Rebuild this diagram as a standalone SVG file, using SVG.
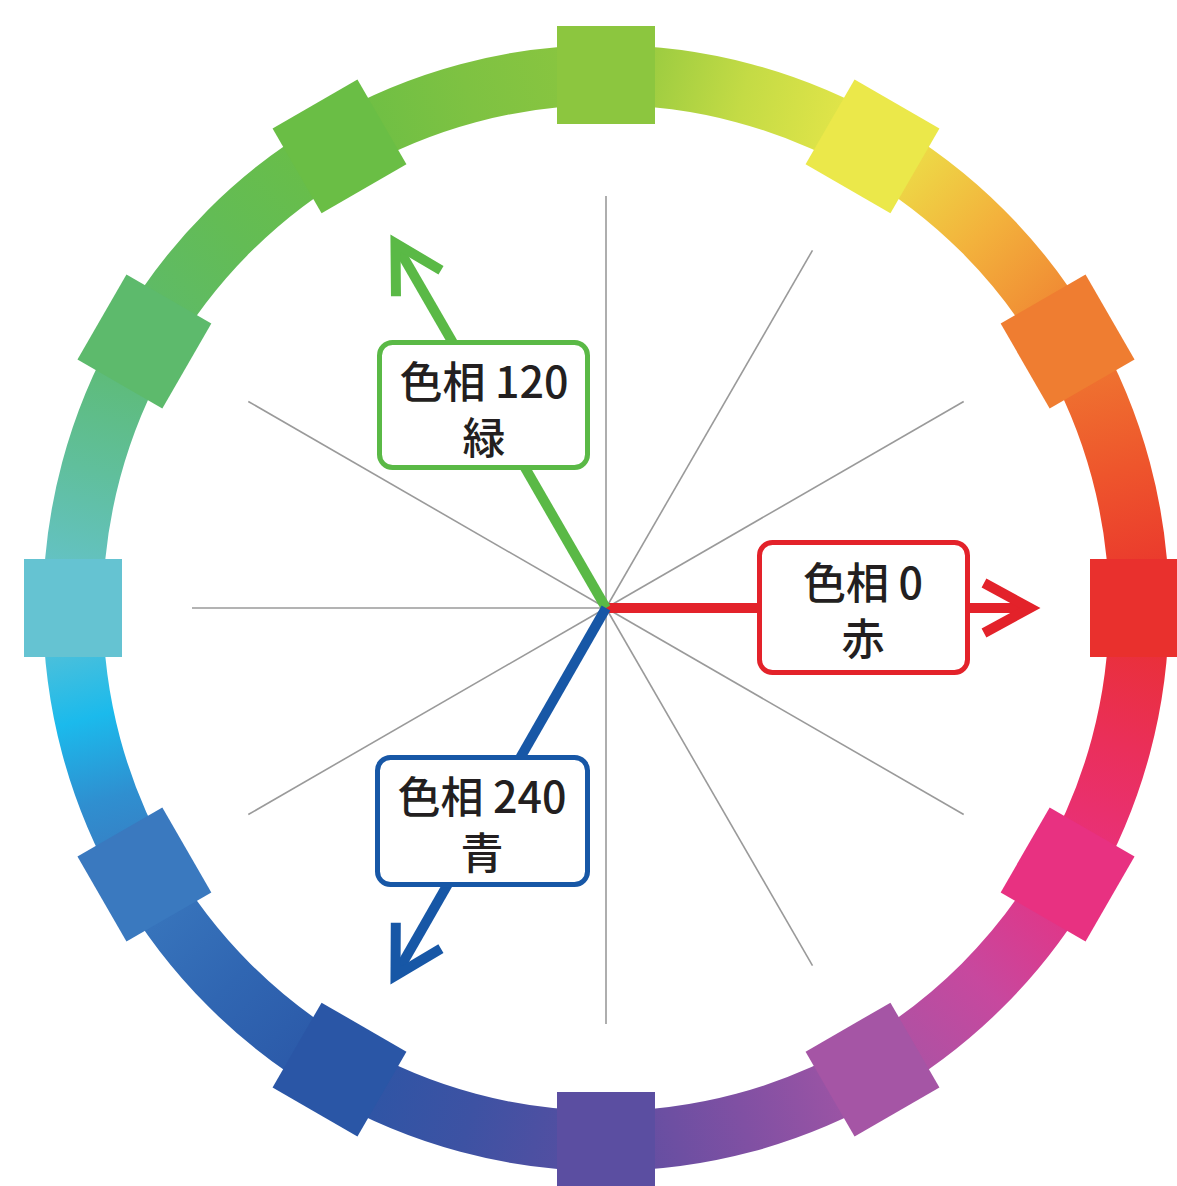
<svg xmlns="http://www.w3.org/2000/svg" width="1177" height="1186" viewBox="0 0 1177 1186">
<style>
.band{fill:none;stroke-width:60;stroke-linecap:butt}
.spoke{stroke:#9a9a9a;stroke-width:1.6}
.shaft{fill:none;stroke-width:10}
.box{fill:#fff;stroke-width:5}
.lbl{font-family:"Noto Sans CJK JP","Noto Sans",sans-serif;font-size:43px;font-weight:500;fill:#231f20;text-anchor:middle}
</style>
<defs>
<linearGradient id="g0" gradientUnits="userSpaceOnUse" x1="1139" y1="608" x2="1067.6" y2="341.5"><stop offset="0" stop-color="#e9302d"/><stop offset="0.5" stop-color="#ee552c"/><stop offset="1" stop-color="#ef7d31"/></linearGradient>
<linearGradient id="g1" gradientUnits="userSpaceOnUse" x1="1067.6" y1="341.5" x2="872.5" y2="146.4"><stop offset="0" stop-color="#ef7d31"/><stop offset="0.5" stop-color="#f3b23c"/><stop offset="1" stop-color="#ebe84a"/></linearGradient>
<linearGradient id="g2" gradientUnits="userSpaceOnUse" x1="872.5" y1="146.4" x2="606" y2="75"><stop offset="0" stop-color="#ebe84a"/><stop offset="0.5" stop-color="#c4db45"/><stop offset="1" stop-color="#8cc63f"/></linearGradient>
<linearGradient id="g3" gradientUnits="userSpaceOnUse" x1="606" y1="75" x2="339.5" y2="146.4"><stop offset="0" stop-color="#8cc63f"/><stop offset="0.5" stop-color="#7ec242"/><stop offset="1" stop-color="#6abe45"/></linearGradient>
<linearGradient id="g4" gradientUnits="userSpaceOnUse" x1="339.5" y1="146.4" x2="144.4" y2="341.5"><stop offset="0" stop-color="#6abe45"/><stop offset="0.5" stop-color="#63bc55"/><stop offset="1" stop-color="#5dba6c"/></linearGradient>
<linearGradient id="g5" gradientUnits="userSpaceOnUse" x1="144.4" y1="341.5" x2="73" y2="608"><stop offset="0" stop-color="#5dba6c"/><stop offset="0.5" stop-color="#60bf9c"/><stop offset="1" stop-color="#65c3d2"/></linearGradient>
<linearGradient id="g6" gradientUnits="userSpaceOnUse" x1="73" y1="608" x2="144.4" y2="874.5"><stop offset="0" stop-color="#65c3d2"/><stop offset="0.4" stop-color="#1bbaec"/><stop offset="0.7" stop-color="#2f8fd0"/><stop offset="1" stop-color="#3a79bf"/></linearGradient>
<linearGradient id="g7" gradientUnits="userSpaceOnUse" x1="144.4" y1="874.5" x2="339.5" y2="1069.6"><stop offset="0" stop-color="#3a79bf"/><stop offset="0.5" stop-color="#3066b2"/><stop offset="1" stop-color="#2a56a6"/></linearGradient>
<linearGradient id="g8" gradientUnits="userSpaceOnUse" x1="339.5" y1="1069.6" x2="606" y2="1141"><stop offset="0" stop-color="#2a56a6"/><stop offset="0.5" stop-color="#3d52a3"/><stop offset="1" stop-color="#5b4ea1"/></linearGradient>
<linearGradient id="g9" gradientUnits="userSpaceOnUse" x1="606" y1="1141" x2="872.5" y2="1069.6"><stop offset="0" stop-color="#5b4ea1"/><stop offset="0.5" stop-color="#8050a3"/><stop offset="1" stop-color="#a555a5"/></linearGradient>
<linearGradient id="g10" gradientUnits="userSpaceOnUse" x1="872.5" y1="1069.6" x2="1067.6" y2="874.5"><stop offset="0" stop-color="#a555a5"/><stop offset="0.5" stop-color="#c7489e"/><stop offset="1" stop-color="#e83181"/></linearGradient>
<linearGradient id="g11" gradientUnits="userSpaceOnUse" x1="1067.6" y1="874.5" x2="1139" y2="608"><stop offset="0" stop-color="#e83181"/><stop offset="0.5" stop-color="#ea2f5a"/><stop offset="1" stop-color="#e9302d"/></linearGradient>
<marker id="mR" markerUnits="userSpaceOnUse" orient="auto" markerWidth="80" markerHeight="80" refX="0" refY="0" viewBox="-60 -40 80 80" overflow="visible"><path d="M-46,-25 L0,0 L-46,25" fill="none" stroke="#e3222a" stroke-width="10"/></marker>
<marker id="mG" markerUnits="userSpaceOnUse" orient="auto" markerWidth="80" markerHeight="80" refX="0" refY="0" viewBox="-60 -40 80 80" overflow="visible"><path d="M-46,-26 L0,0 L-46,26" fill="none" stroke="#5ab946" stroke-width="10"/></marker>
<marker id="mB" markerUnits="userSpaceOnUse" orient="auto" markerWidth="80" markerHeight="80" refX="0" refY="0" viewBox="-60 -40 80 80" overflow="visible"><path d="M-46,-26 L0,0 L-46,26" fill="none" stroke="#1757a6" stroke-width="10"/></marker>
</defs>
<g id="ring">
<path class="band" stroke="url(#g0)" d="M1139,608 A533,533 0 0 0 1067.6,341.5"/>
<path class="band" stroke="url(#g1)" d="M1067.6,341.5 A533,533 0 0 0 872.5,146.4"/>
<path class="band" stroke="url(#g2)" d="M872.5,146.4 A533,533 0 0 0 606,75"/>
<path class="band" stroke="url(#g3)" d="M606,75 A533,533 0 0 0 339.5,146.4"/>
<path class="band" stroke="url(#g4)" d="M339.5,146.4 A533,533 0 0 0 144.4,341.5"/>
<path class="band" stroke="url(#g5)" d="M144.4,341.5 A533,533 0 0 0 73,608"/>
<path class="band" stroke="url(#g6)" d="M73,608 A533,533 0 0 0 144.4,874.5"/>
<path class="band" stroke="url(#g7)" d="M144.4,874.5 A533,533 0 0 0 339.5,1069.6"/>
<path class="band" stroke="url(#g8)" d="M339.5,1069.6 A533,533 0 0 0 606,1141"/>
<path class="band" stroke="url(#g9)" d="M606,1141 A533,533 0 0 0 872.5,1069.6"/>
<path class="band" stroke="url(#g10)" d="M872.5,1069.6 A533,533 0 0 0 1067.6,874.5"/>
<path class="band" stroke="url(#g11)" d="M1067.6,874.5 A533,533 0 0 0 1139,608"/>
</g>
<g id="hue-squares">
<rect id="h0" x="-49" y="-49" width="98" height="98" fill="#e9302d" transform="translate(1139,608)"/>
<rect id="h30" x="-49" y="-49" width="98" height="98" fill="#ef7d31" transform="translate(1067.6,341.5) rotate(-30)"/>
<rect id="h60" x="-49" y="-49" width="98" height="98" fill="#ebe84a" transform="translate(872.5,146.4) rotate(-60)"/>
<rect id="h90" x="-49" y="-49" width="98" height="98" fill="#8cc63f" transform="translate(606,75)"/>
<rect id="h120" x="-49" y="-49" width="98" height="98" fill="#6abe45" transform="translate(339.5,146.4) rotate(-30)"/>
<rect id="h150" x="-49" y="-49" width="98" height="98" fill="#5dba6c" transform="translate(144.4,341.5) rotate(-60)"/>
<rect id="h180" x="-49" y="-49" width="98" height="98" fill="#65c3d2" transform="translate(73,608)"/>
<rect id="h210" x="-49" y="-49" width="98" height="98" fill="#3a79bf" transform="translate(144.4,874.5) rotate(-30)"/>
<rect id="h240" x="-49" y="-49" width="98" height="98" fill="#2a56a6" transform="translate(339.5,1069.6) rotate(-60)"/>
<rect id="h270" x="-49" y="-49" width="98" height="98" fill="#5b4ea1" transform="translate(606,1141)"/>
<rect id="h300" x="-49" y="-49" width="98" height="98" fill="#a555a5" transform="translate(872.5,1069.6) rotate(-30)"/>
<rect id="h330" x="-49" y="-49" width="98" height="98" fill="#e83181" transform="translate(1067.6,874.5) rotate(-60)"/>
</g>
<g id="spokes">
<line class="spoke" x1="606" y1="608" x2="1019" y2="608"/>
<line class="spoke" x1="606" y1="608" x2="963.7" y2="401.5"/>
<line class="spoke" x1="606" y1="608" x2="812.5" y2="250.3"/>
<line class="spoke" x1="606" y1="608" x2="606" y2="196"/>
<line class="spoke" x1="606" y1="608" x2="399.5" y2="250.3"/>
<line class="spoke" x1="606" y1="608" x2="248.3" y2="401.5"/>
<line class="spoke" x1="606" y1="608" x2="192" y2="608"/>
<line class="spoke" x1="606" y1="608" x2="248.3" y2="814.5"/>
<line class="spoke" x1="606" y1="608" x2="399.5" y2="965.7"/>
<line class="spoke" x1="606" y1="608" x2="606" y2="1024"/>
<line class="spoke" x1="606" y1="608" x2="812.5" y2="965.7"/>
<line class="spoke" x1="606" y1="608" x2="963.7" y2="814.5"/>
</g>
<g id="connectors">
<line class="shaft" stroke="#e3222a" x1="606" y1="608" x2="1030" y2="608" marker-end="url(#mR)"/>
<line class="shaft" stroke="#5ab946" x1="606" y1="608" x2="395.5" y2="243.4" marker-end="url(#mG)"/>
<line class="shaft" stroke="#1757a6" x1="606" y1="608" x2="395.5" y2="975.6" marker-end="url(#mB)"/>
</g>
<g id="node-red">
<rect class="box" stroke="#e3222a" x="759.5" y="542.5" width="208" height="130" rx="13"/>
<text class="lbl"><tspan x="863" y="599">色相 0</tspan><tspan x="863" y="655">赤</tspan></text>
</g>
<g id="node-green">
<rect class="box" stroke="#5ab946" x="379.5" y="342.5" width="208" height="125" rx="13"/>
<text class="lbl"><tspan x="484" y="398">色相 120</tspan><tspan x="484" y="454">緑</tspan></text>
</g>
<g id="node-blue">
<rect class="box" stroke="#1757a6" x="377.5" y="757.5" width="210" height="127" rx="13"/>
<text class="lbl"><tspan x="482" y="813">色相 240</tspan><tspan x="482" y="869">青</tspan></text>
</g>
</svg>
